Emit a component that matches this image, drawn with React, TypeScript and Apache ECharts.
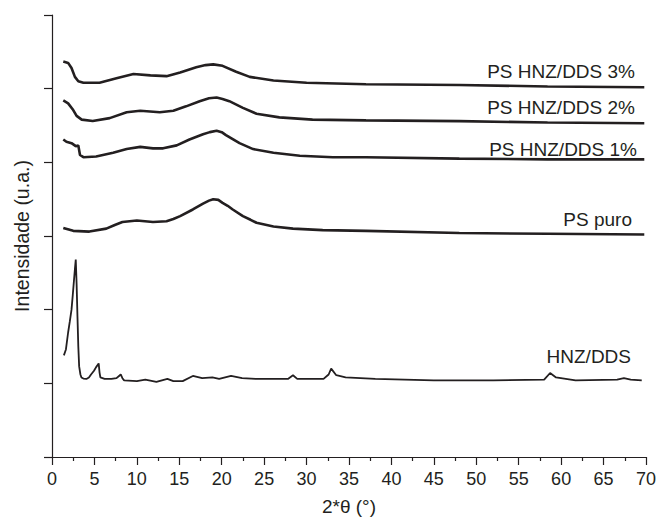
import React, { useEffect, useRef } from "react";
import * as echarts from "echarts";

// 2θ (°) vs offset intensity (a.u.)
const hnzDds: [number, number][] = [
  [1.4, 1.38], [1.64, 1.46], [1.9, 1.69], [2.1, 1.84], [2.3, 2.0], [2.45, 2.2], [2.57, 2.37], [2.7, 2.55], [2.8, 2.68],
  [2.9, 2.35], [3.0, 1.91], [3.1, 1.5], [3.2, 1.23], [3.35, 1.12], [3.47, 1.08], [3.7, 1.065], [4.05, 1.06], [4.35, 1.08], [4.6, 1.12], [4.95, 1.17], [5.2, 1.22],
  [5.5, 1.27], [5.6, 1.15], [5.7, 1.08], [6.2, 1.06], [7.0, 1.06], [7.6, 1.07], [7.9, 1.1], [8.1, 1.12], [8.3, 1.07], [8.5, 1.04],
  [10.0, 1.03], [11.0, 1.05], [12.3, 1.02], [13.6, 1.06], [14.3, 1.03], [15.4, 1.03], [16.6, 1.1],
  [17.7, 1.07], [18.9, 1.08], [19.7, 1.06], [21.1, 1.1], [22.4, 1.07], [24.0, 1.06],
  [25.4, 1.06], [27.8, 1.06], [28.4, 1.11], [28.9, 1.06], [32.0, 1.06], [32.6, 1.12], [32.9, 1.2],
  [33.5, 1.11], [34.6, 1.08], [38.1, 1.06], [45, 1.04], [52, 1.04], [58.0, 1.05],
  [58.7, 1.14], [59.4, 1.08], [61.7, 1.04], [66.6, 1.05], [67.4, 1.07], [68.2, 1.05],
  [69.5, 1.04],
];

const psPuro: [number, number][] = [
  [1.33, 3.11], [2.5, 3.07], [4.4, 3.06], [6.4, 3.1], [7.4, 3.15], [8.3, 3.19], [10.0, 3.21],
  [11.9, 3.19], [13.5, 3.2], [14.3, 3.23], [15.1, 3.27], [16.6, 3.36], [17.8, 3.44], [18.5, 3.48], [19.0, 3.5],
  [19.6, 3.49], [20.1, 3.45], [20.7, 3.41], [21.3, 3.36], [22.5, 3.27], [23.4, 3.22], [24.1, 3.18], [26.1, 3.13],
  [28.4, 3.1], [31.9, 3.08], [37.0, 3.07], [48.0, 3.04], [58.4, 3.03], [69.8, 3.02],
];

const ps1: [number, number][] = [
  [1.33, 4.31], [1.7, 4.28], [2.3, 4.26], [2.8, 4.22], [3.1, 4.23], [3.3, 4.1],
  [3.7, 4.07], [5.2, 4.08], [7.2, 4.13], [8.8, 4.18], [10.4, 4.21], [11.9, 4.19],
  [13.1, 4.19], [14.7, 4.23], [16.2, 4.31], [17.8, 4.38], [18.6, 4.41], [19.4, 4.43], [20.0, 4.41], [20.5, 4.37],
  [22.1, 4.26], [23.7, 4.18], [26.1, 4.13], [29.2, 4.09], [33.1, 4.07], [37.0, 4.07],
  [48.0, 4.05], [58.4, 4.04], [69.8, 4.04],
];

const ps2: [number, number][] = [
  [1.33, 4.84], [1.9, 4.8], [2.5, 4.71], [2.9, 4.63], [3.5, 4.58], [4.8, 4.56],
  [6.8, 4.6], [8.8, 4.68], [10.4, 4.7], [12.7, 4.68], [14.3, 4.7], [15.8, 4.76],
  [17.4, 4.83], [18.5, 4.87], [19.4, 4.88], [20.1, 4.86], [20.9, 4.83], [22.5, 4.74], [24.1, 4.66], [26.8, 4.61],
  [30.7, 4.58], [37.0, 4.57], [48.0, 4.56], [58.4, 4.54], [69.8, 4.53],
];

const ps3: [number, number][] = [
  [1.33, 5.37], [1.9, 5.35], [2.3, 5.28], [2.7, 5.16], [3.1, 5.1], [3.7, 5.08],
  [5.6, 5.08], [7.6, 5.14], [9.6, 5.2], [11.6, 5.18], [13.5, 5.17], [15.1, 5.22],
  [17.0, 5.29], [18.1, 5.32], [19.0, 5.33], [20.1, 5.31], [21.7, 5.23], [23.3, 5.16], [26.1, 5.11],
  [30.0, 5.08], [37.0, 5.06], [48.0, 5.05], [58.4, 5.03], [69.8, 5.02],
];

const seriesNames = ["HNZ/DDS", "PS puro", "PS HNZ/DDS 1%", "PS HNZ/DDS 2%", "PS HNZ/DDS 3%"];
const seriesData = [hnzDds, psPuro, ps1, ps2, ps3];
// curve labels: [text, right x, center y] in pixels
const curveLabels: [string, number, number][] = [
  ["PS HNZ/DDS 3%", 635, 72],
  ["PS HNZ/DDS 2%", 635, 108],
  ["PS HNZ/DDS 1%", 637, 150],
  ["PS puro", 632, 220],
  ["HNZ/DDS", 631, 357],
];

const FONT = "'Liberation Sans', Arial, sans-serif";
const INK = "#231f20";

export default function App() {
  const ref = useRef<HTMLDivElement>(null);
  useEffect(() => {
    if (!ref.current) return;
    const chart = echarts.init(ref.current, undefined, { renderer: "svg" });
    chart.setOption({
      animation: false,
      backgroundColor: "#ffffff",
      grid: { left: 52, right: 12, top: 15, bottom: 63, containLabel: false },
      xAxis: {
        type: "value",
        min: 0,
        max: 70,
        interval: 5,
        name: "2*θ (°)",
        nameLocation: "middle",
        nameGap: 40,
        nameTextStyle: { fontFamily: FONT, fontSize: 19, color: INK },
        axisLine: { show: true, onZero: false, lineStyle: { color: INK, width: 1.2 } },
        axisTick: { show: true, inside: false, length: 8, lineStyle: { color: INK, width: 1.2 } },
        minorTick: { show: true, splitNumber: 2, length: 4, lineStyle: { color: INK, width: 1.2 } },
        axisLabel: { fontFamily: FONT, fontSize: 18, color: INK, margin: 13 },
        splitLine: { show: false },
      },
      yAxis: {
        type: "value",
        min: 0,
        max: 6,
        interval: 1,
        name: "Intensidade (u.a.)",
        nameLocation: "middle",
        nameRotate: 90,
        nameGap: 20,
        nameTextStyle: { fontFamily: FONT, fontSize: 19.5, color: INK },
        axisLine: { show: true, onZero: false, lineStyle: { color: INK, width: 1.2 } },
        axisTick: { show: true, inside: false, length: 8, lineStyle: { color: INK, width: 1.2 } },
        axisLabel: { show: false },
        splitLine: { show: false },
      },
      series: seriesData.map((d, i) => ({
        name: seriesNames[i],
        type: "line",
        data: d,
        showSymbol: false,
        smooth: false,
        lineStyle: { color: INK, width: i === 0 ? 1.8 : 2.6 },
      })),
      graphic: curveLabels.map(([t, x, y]) => ({
        type: "text",
        right: 659 - x,
        top: y - 10.5,
        style: { text: t, fontFamily: FONT, fontSize: 19, fill: INK },
      })),
    });
    return () => chart.dispose();
  }, []);
  return (
    <div
      ref={ref}
      style={{ position: "fixed", left: 0, top: 0, width: 659, height: 521, background: "#fff" }}
    />
  );
}
